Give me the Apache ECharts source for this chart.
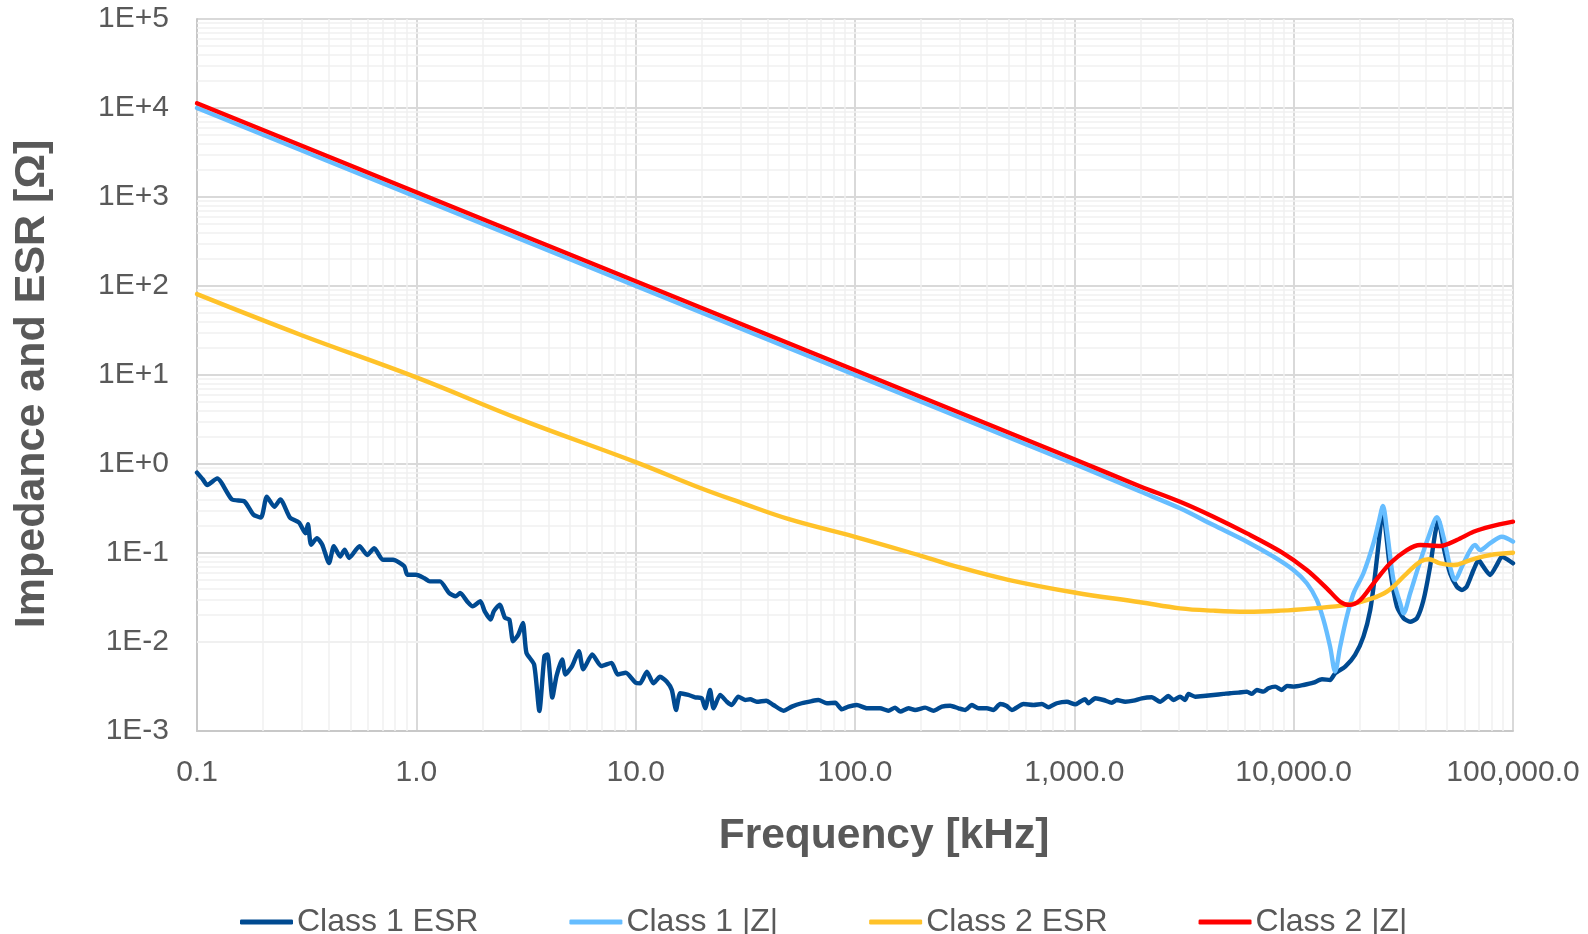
<!DOCTYPE html>
<html>
<head>
<meta charset="utf-8">
<script src="https://cdn.jsdelivr.net/npm/echarts@6/dist/echarts.min.js"></script>
<style>
html,body{margin:0;padding:0;background:#fff;}
#chart{width:1588px;height:934px;}
</style>
</head>
<body>
<div id="chart"></div>
<script>
// ---- Data (frequency in kHz, values in ohm) ----
const seriesNames = ['Class 1 ESR', 'Class 1 |Z|', 'Class 2 ESR', 'Class 2 |Z|'];
const xTickLabels = ['0.1', '1.0', '10.0', '100.0', '1,000.0', '10,000.0', '100,000.0'];
const yTickLabels = ['1E-3', '1E-2', '1E-1', '1E+0', '1E+1', '1E+2', '1E+3', '1E+4', '1E+5'];

const freqEsr1 = [0.1, 0.1064, 0.1114, 0.1236, 0.1442, 0.1644, 0.1807, 0.1959, 0.208, 0.2254, 0.2399, 0.2655, 0.2917, 0.3119, 0.3206, 0.3311, 0.3524, 0.3724, 0.3999, 0.4207, 0.4498, 0.471, 0.4943, 0.5508, 0.597, 0.6427, 0.7031, 0.7834, 0.881, 0.91, 1.0, 1.089, 1.151, 1.282, 1.409, 1.514, 1.585, 1.702, 1.807, 1.959, 2.051, 2.183, 2.254, 2.399, 2.535, 2.655, 2.761, 2.917, 3.062, 3.177, 3.443, 3.639, 3.837, 3.963, 4.169, 4.355, 4.624, 4.786, 5.129, 5.508, 5.768, 6.339, 6.966, 7.762, 8.279, 9.016, 10.0, 10.47, 11.25, 12.05, 12.91, 13.87, 14.62, 15.28, 15.96, 17.38, 18.66, 20.0, 20.75, 21.83, 22.65, 24.27, 26.06, 27.42, 29.38, 31.55, 33.27, 35.65, 39.36, 42.46, 47.21, 51.52, 57.15, 63.53, 68.08, 74.47, 81.28, 87.1, 93.33, 101.9, 113.2, 130.0, 141.9, 152.4, 160.7, 175.4, 187.9, 208.9, 228.0, 248.9, 271.6, 296.5, 317.7, 341.2, 365.6, 399, 427.6, 459.2, 492, 518.8, 586.1, 651.6, 711.2, 762.1, 831.8, 924.7, 1009, 1062, 1119, 1159, 1245, 1358, 1483, 1563, 1706, 1862, 2032, 2254, 2460, 2685, 2831, 3034, 3199, 3311, 3556, 3882, 4305, 4786, 5129, 5598, 6124, 6442, 6792, 7278, 7674, 8241, 8831, 9311, 9977, 11090, 12300, 13460, 14660, 15450, 17180, 19050, 20800, 22340, 23550, 24770, 25410, 27540, 29580, 31700, 33960, 36480, 39080, 41880, 44160, 45710, 48190, 51640, 55460, 58480, 61520, 66070, 69660, 73280, 78700, 84330, 88920, 95280, 100000];
const valEsr1 = [0.80, 0.67, 0.58, 0.69, 0.40, 0.38, 0.27, 0.25, 0.43, 0.33, 0.40, 0.25, 0.22, 0.167, 0.21, 0.124, 0.147, 0.124, 0.077, 0.119, 0.091, 0.109, 0.088, 0.119, 0.095, 0.113, 0.084, 0.084, 0.071, 0.057, 0.057, 0.052, 0.048, 0.048, 0.0356, 0.0326, 0.0356, 0.0287, 0.0252, 0.0287, 0.0221, 0.0179, 0.0221, 0.0263, 0.0187, 0.0179, 0.0102, 0.0121, 0.0164, 0.00755, 0.00559, 0.00168, 0.00693, 0.00724, 0.00237, 0.00414, 0.00637, 0.00432, 0.00536, 0.00789, 0.00492, 0.00724, 0.00536, 0.00583, 0.00432, 0.00451, 0.00348, 0.00343, 0.00465, 0.00343, 0.00407, 0.00358, 0.00289, 0.00172, 0.00266, 0.00254, 0.00239, 0.00233, 0.0018, 0.00289, 0.0018, 0.00254, 0.00213, 0.00196, 0.00243, 0.00223, 0.00227, 0.00213, 0.00219, 0.00196, 0.00169, 0.00188, 0.00205, 0.00217, 0.00223, 0.00205, 0.00208, 0.00175, 0.00188, 0.00196, 0.0018, 0.0018, 0.00169, 0.00183, 0.00165, 0.0018, 0.00172, 0.00183, 0.00169, 0.00188, 0.00192, 0.0018, 0.00172, 0.00196, 0.0018, 0.0018, 0.00172, 0.00201, 0.00191, 0.00172, 0.00201, 0.00196, 0.00201, 0.00185, 0.00205, 0.00213, 0.00199, 0.00213, 0.00227, 0.00205, 0.00233, 0.00223, 0.00208, 0.00223, 0.00213, 0.00219, 0.00233, 0.00239, 0.00213, 0.00247, 0.00223, 0.00243, 0.00223, 0.00261, 0.00243, 0.00247, 0.00254, 0.00261, 0.00266, 0.0027, 0.00277, 0.00261, 0.00289, 0.00277, 0.00302, 0.00315, 0.00289, 0.00321, 0.00315, 0.00329, 0.00349, 0.00381, 0.00374, 0.00445, 0.00528, 0.00715, 0.0115, 0.0229, 0.0592, 0.181, 0.32, 0.0644, 0.0249, 0.0185, 0.0169, 0.0185, 0.0296, 0.0702, 0.166, 0.235, 0.118, 0.0592, 0.0419, 0.0384, 0.0419, 0.0644, 0.0834, 0.0702, 0.0566, 0.0733, 0.091, 0.0834, 0.0766];

const freqZ1 = [0.1, 1000, 2000, 3034, 4305, 6124, 8091, 9977, 11480, 12760, 13680, 14660, 15450, 16290, 17460, 18750, 20800, 23120, 24550, 25530, 26610, 28510, 30620, 31700, 33960, 37070, 41210, 44980, 48190, 51640, 54450, 58480, 63830, 67140, 70790, 78700, 88920, 100000];
const valZ1 = [10000, 1.0, 0.49, 0.318, 0.206, 0.134, 0.091, 0.0644, 0.0457, 0.0296, 0.0177, 0.00887, 0.00465, 0.00887, 0.0192, 0.0352, 0.0592, 0.129, 0.235, 0.337, 0.181, 0.0498, 0.0272, 0.021, 0.0352, 0.0702, 0.152, 0.252, 0.152, 0.0702, 0.0498, 0.0702, 0.108, 0.123, 0.108, 0.129, 0.152, 0.134];

const freqEsr2 = [0.1, 0.3, 1, 3, 10, 20, 30, 50, 100, 200, 300, 500, 1000, 2000, 3034, 4305, 6124, 8690, 12300, 17460, 21540, 26610, 32810, 37760, 41210, 46560, 53580, 63830, 78700, 100000];
const valEsr2 = [81, 28, 9.4, 3.15, 1.05, 0.53, 0.37, 0.24, 0.152, 0.093, 0.069, 0.05, 0.036, 0.028, 0.0239, 0.0225, 0.0219, 0.0225, 0.0239, 0.0261, 0.0296, 0.0368, 0.0592, 0.080, 0.085, 0.0766, 0.0733, 0.0834, 0.095, 0.1007];

const freqZ2 = [0.1, 1000, 2000, 3034, 4305, 6124, 8690, 11480, 14160, 16290, 17990, 20090, 23120, 27540, 32810, 37760, 46560, 55460, 66070, 78700, 100000];
const valZ2 = [11300, 1.13, 0.56, 0.377, 0.256, 0.166, 0.104, 0.0644, 0.0401, 0.0284, 0.0261, 0.0296, 0.0457, 0.0766, 0.108, 0.123, 0.12, 0.14, 0.173, 0.198, 0.225];

const colors = ['#004A91', '#66BDFF', '#FFC229', '#FF0000'];

// ---- build ----
const zip = (xs, ys) => xs.map((x, i) => [x, ys[i]]);
const FONT = '"Liberation Sans", Arial, sans-serif';
const TXT = '#595959';

// minor log gridlines (2..9 within each decade)
const minorX = [], minorY = [];
for (let e = -1; e < 5; e++) for (let m = 2; m <= 9; m++) minorX.push({ xAxis: m * Math.pow(10, e) });
for (let e = -3; e < 5; e++) for (let m = 2; m <= 9; m++) minorY.push({ yAxis: m * Math.pow(10, e) });

const chart = echarts.init(document.getElementById('chart'), null, { renderer: 'canvas' });
const lw = 4.4;
const lineSeries = (i, xs, ys, smooth) => ({
  name: seriesNames[i], type: 'line', data: zip(xs, ys), showSymbol: false, symbol: 'none',
  smooth: smooth, z: 3 + i, lineStyle: { color: colors[i], width: lw, cap: 'round', join: 'round' },
  itemStyle: { color: colors[i] }
});
chart.setOption({
  animation: false,
  backgroundColor: '#ffffff',
  grid: { left: 197, right: 75, top: 19, bottom: 203, containLabel: false },
  xAxis: {
    type: 'log', logBase: 10, min: 0.1, max: 100000,
    axisLine: { show: true, lineStyle: { color: '#C8C8C8', width: 2 } },
    axisTick: { show: false },
    splitLine: { show: true, lineStyle: { color: '#D9D9D9', width: 2 } },
    axisLabel: {
      margin: 27, color: TXT, fontSize: 30, fontFamily: FONT,
      formatter: (v) => xTickLabels[Math.round(Math.log10(v)) + 1]
    }
  },
  yAxis: {
    type: 'log', logBase: 10, min: 0.001, max: 100000,
    axisLine: { show: true, lineStyle: { color: '#C8C8C8', width: 2 } },
    axisTick: { show: false },
    splitLine: { show: true, lineStyle: { color: '#D9D9D9', width: 2 } },
    axisLabel: {
      margin: 28, color: TXT, fontSize: 30, fontFamily: FONT,
      formatter: (v) => yTickLabels[Math.round(Math.log10(v)) + 3]
    }
  },
  legend: {
    data: seriesNames,
    left: 235, top: 901,
    icon: 'roundRect', itemWidth: 53, itemHeight: 5, itemGap: 91,
    textStyle: { color: TXT, fontSize: 32, fontFamily: FONT, padding: [0, 0, 0, -1] }
  },
  graphic: [
    { type: 'text', x: 884, y: 836, z: 10, style: { text: 'Frequency [kHz]', font: 'bold 42.5px ' + FONT, fill: TXT, align: 'center', verticalAlign: 'middle' } },
    { type: 'text', x: 32, y: 384, z: 10, rotation: Math.PI / 2, style: { text: 'Impedance and ESR [Ω]', font: 'bold 43px ' + FONT, fill: TXT, align: 'center', verticalAlign: 'middle' } }
  ],
  series: [
    {
      name: '_minor', type: 'line', data: [[1, 1]], symbol: 'none', lineStyle: { opacity: 0 }, z: 1, silent: true,
      markLine: {
        z: 1, silent: true, symbol: 'none', label: { show: false }, emphasis: { disabled: true },
        lineStyle: { color: '#F0F0F0', width: 1.5, type: 'solid' },
        data: minorX.concat(minorY)
      }
    },
    lineSeries(0, freqEsr1, valEsr1, 0.2),
    lineSeries(1, freqZ1, valZ1, 0.3),
    lineSeries(2, freqEsr2, valEsr2, 0.4),
    lineSeries(3, freqZ2, valZ2, 0.3)
  ]
});
</script>
</body>
</html>
